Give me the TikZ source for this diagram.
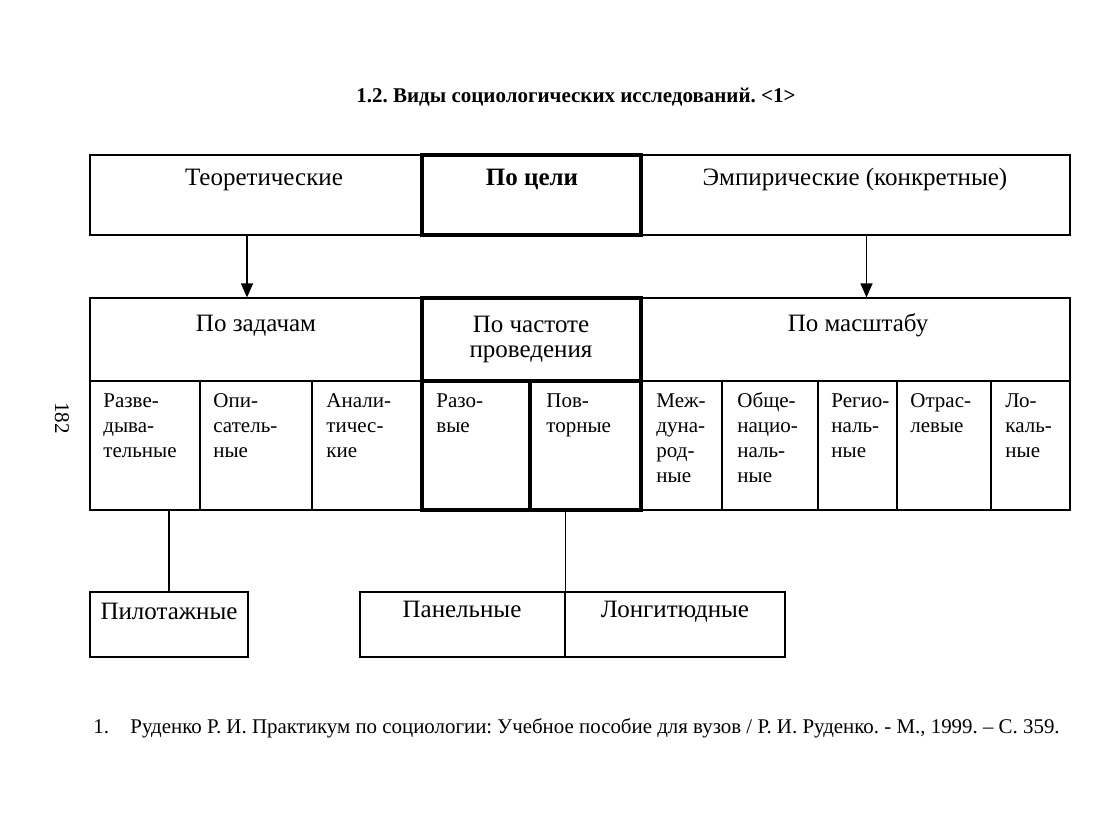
\documentclass[tikz,border=0pt]{standalone}
\usepackage{fontspec}
\setmainfont{Liberation Serif}
\newfontfamily\tms{Liberation Serif}
\usetikzlibrary{arrows.meta,fit}

\tikzset{
  box/.style={draw, line width=0.6pt, inner sep=0pt},
  thickbox/.style={draw, line width=2.2pt, inner sep=0pt},
  hdr/.style={font=\tms\fontsize{12.5}{13.5}\selectfont, inner sep=0pt, anchor=base},
  celltext/.style={font=\tms\fontsize{10.5}{12.5}\selectfont, anchor=north west, inner sep=0pt},
  arr/.style={line width=0.6pt, -{Triangle[width=6pt,length=7pt]}},
}

\begin{document}
\frenchspacing
\begin{tikzpicture}[x=0.5pt,y=-0.5pt]
        \useasboundingbox (0,0) rectangle (1099,824);

        % Title
        \node[font=\tms\fontsize{10.5}{12.5}\selectfont\bfseries] (title) at (576,97)
          {1.2. Виды социологических исследований. <1>};

        % Page number
        \node[font=\tms\fontsize{10.5}{12.5}\selectfont, rotate=-90] (page) at (62,418) {182};

        % By aim
        \node[box, fit={(90,155) (422,235)}] (teor) {};
        \node[box, fit={(641,155) (1070,235)}] (emp) {};
        \node[thickbox, fit={(422,155) (641,235)}] (cel) {};
        \node[hdr] at (264,185) {Теоретические};
        \node[hdr, font=\tms\fontsize{12.5}{13.5}\selectfont\bfseries] at (532,186) {По цели};
        \node[hdr] at (855,185) {Эмпирические (конкретные)};

        % Second row headers
        \node[box, fit={(90,298) (422,381)}] (zad) {};
        \node[box, fit={(641,298) (1070,381)}] (masht) {};
        \node[hdr] at (256,331) {По задачам};
        \node[hdr] at (858,331) {По масштабу};

        % Cells
        \node[box, fit={(90,381) (200,510)}] (razv) {};
        \node[box, fit={(200,381) (312,510)}] (opis) {};
        \node[box, fit={(312,381) (422,510)}] (anal) {};
        \node[box, fit={(641,381) (722,510)}] (mezh) {};
        \node[box, fit={(722,381) (818,510)}] (obsh) {};
        \node[box, fit={(818,381) (897,510)}] (reg) {};
        \node[box, fit={(897,381) (991,510)}] (otr) {};
        \node[box, fit={(991,381) (1070,510)}] (lok) {};

        % By frequency (thick)
        \node[thickbox, fit={(422,298) (641,381)}] (chast) {};
        \node[thickbox, fit={(422,381) (530,510)}] (raz) {};
        \node[thickbox, fit={(530,381) (641,510)}] (povt) {};
        \node[hdr, anchor=center] at (531,340) {\begin{tabular}{@{}c@{}}По частоте\\[-1pt]проведения\end{tabular}};

        \node[celltext] at (103,390) {\begin{tabular}{@{}l@{}}Разве-\\дыва-\\тельные\end{tabular}};
        \node[celltext] at (213,390) {\begin{tabular}{@{}l@{}}Опи-\\сатель-\\ные\end{tabular}};
        \node[celltext] at (326,390) {\begin{tabular}{@{}l@{}}Анали-\\тичес-\\кие\end{tabular}};
        \node[celltext] at (436,390) {\begin{tabular}{@{}l@{}}Разо-\\вые\end{tabular}};
        \node[celltext] at (546,390) {\begin{tabular}{@{}l@{}}Пов-\\торные\end{tabular}};
        \node[celltext] at (656,390) {\begin{tabular}{@{}l@{}}Меж-\\дуна-\\род-\\ные\end{tabular}};
        \node[celltext] at (737,390) {\begin{tabular}{@{}l@{}}Обще-\\нацио-\\наль-\\ные\end{tabular}};
        \node[celltext] at (831,390) {\begin{tabular}{@{}l@{}}Регио-\\наль-\\ные\end{tabular}};
        \node[celltext] at (910,390) {\begin{tabular}{@{}l@{}}Отрас-\\левые\end{tabular}};
        \node[celltext] at (1005,390) {\begin{tabular}{@{}l@{}}Ло-\\каль-\\ные\end{tabular}};

        % Arrows
        \draw[arr] ([xshift=-4.5pt]teor.south) -- ([xshift=-4.5pt]zad.north);
        \draw[arr] ([xshift=5.5pt]emp.south) -- ([xshift=5.5pt]masht.north);

        % Bottom row
        \node[box, fit={(90,592) (248,657)}] (pilot) {};
        \node[box, fit={(360,592) (565,657)}] (panel) {};
        \node[box, fit={(565,592) (785,657)}] (longit) {};
        \node[hdr] at (169,619) {Пилотажные};
        \node[hdr] at (462,617) {Панельные};
        \node[hdr] at (675,617) {Лонгитюдные};

        \draw[line width=0.6pt] (pilot.north) -- (pilot.north |- razv.south);
        \draw[line width=0.6pt] (panel.north east) -- (panel.north east |- povt.south);

        % Footnote
        \node[font=\tms\fontsize{10.45}{12.5}\selectfont, anchor=base west, inner sep=0pt] (fn) at (93,733) {1.};
        \node[font=\tms\fontsize{10.45}{12.5}\selectfont, anchor=base west, inner sep=0pt] (ref) at (130,733)
          {Руденко Р. И. Практикум по социологии: Учебное пособие для вузов / Р. И. Руденко. - М., 1999. – С. 359.};
      \end{tikzpicture}
\end{document}
